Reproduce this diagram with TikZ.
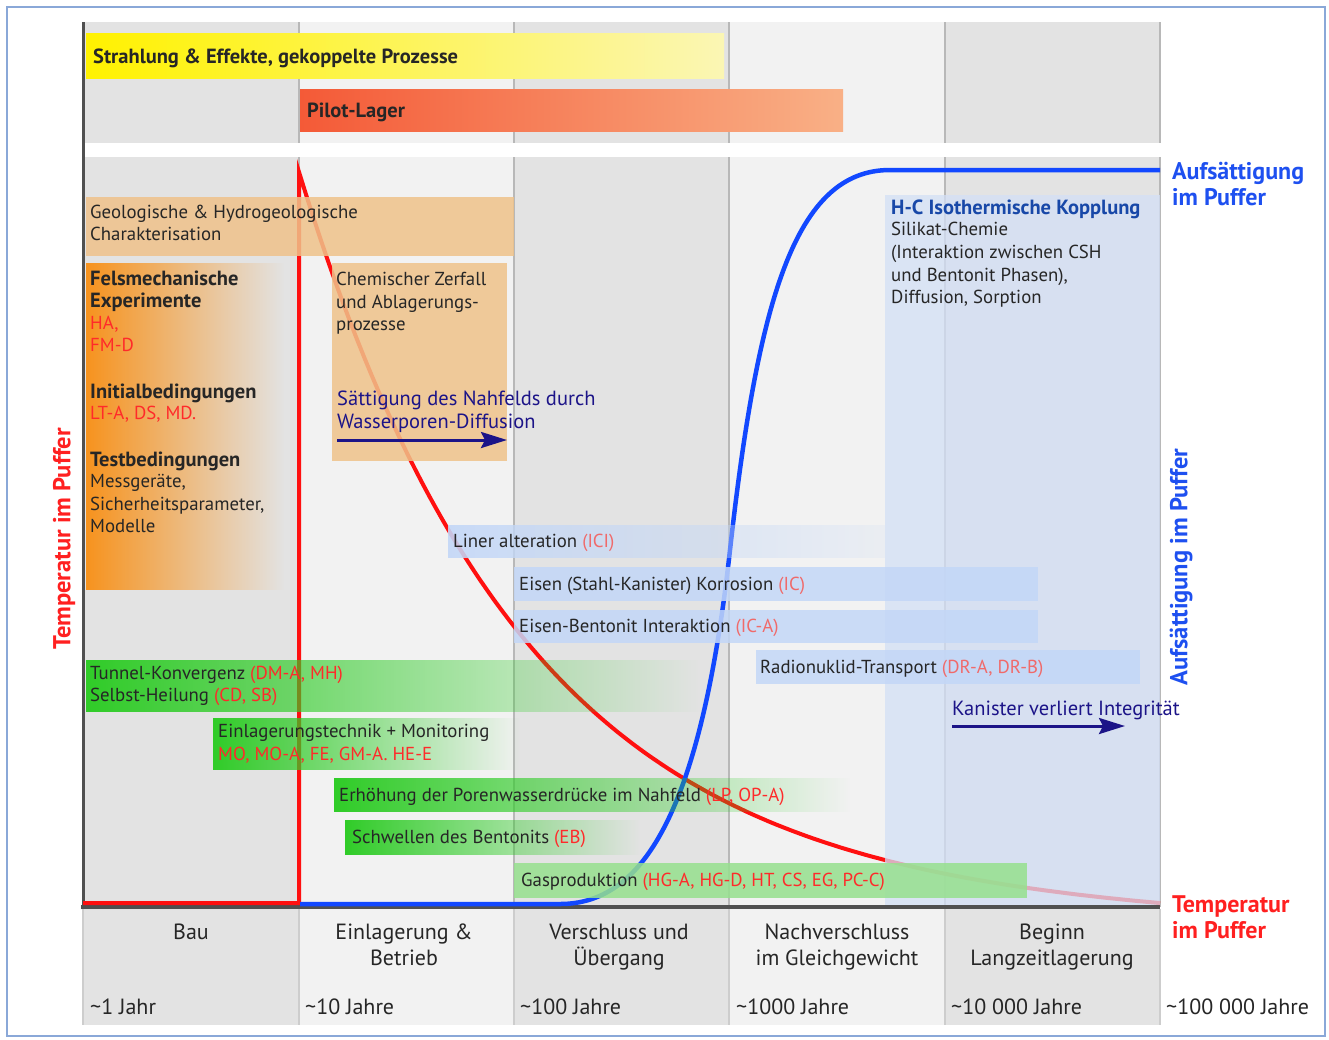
\documentclass[tikz,border=0pt]{standalone}
\usepackage{fontspec}
\setmainfont{PT Sans}
\usetikzlibrary{fadings,arrows.meta}
\definecolor{bgA}{HTML}{E3E3E3}
\definecolor{bgB}{HTML}{F2F2F2}
\definecolor{gridc}{HTML}{B8B8B8}
\definecolor{axisc}{HTML}{505050}
\definecolor{framec}{HTML}{8AA8D8}
\definecolor{yelA}{HTML}{FFF200}
\definecolor{yelB}{HTML}{FBF6B4}
\definecolor{pilA}{HTML}{F45A37}
\definecolor{pilB}{HTML}{F9B086}
\definecolor{orbox}{HTML}{EFC28A}
\definecolor{orL}{HTML}{F7931E}
\definecolor{bluebox}{HTML}{C3D7F7}
\definecolor{hcbox}{HTML}{D3E0F6}
\definecolor{greenA}{HTML}{30CC28}
\definecolor{gasc}{HTML}{96E08E}
\definecolor{navyc}{HTML}{1C1488}
\definecolor{hcblue}{HTML}{1848A8}
\definecolor{curveB}{HTML}{1248FF}
\definecolor{curveR}{HTML}{FF1010}
\definecolor{codered}{HTML}{FF2A2A}
\definecolor{codepale}{HTML}{F06A6A}
\definecolor{txtc}{HTML}{262626}
\definecolor{lblblue}{HTML}{1E50F0}
\definecolor{lblred}{HTML}{FF2020}
\tikzfading[name=fadeR, left color=transparent!0, right color=transparent!100]
\tikzfading[name=fadeG, left color=transparent!0, middle color=transparent!60, right color=transparent!100]
\tikzfading[name=fadeL, left color=transparent!10, right color=transparent!85]
\tikzset{
  lbl/.style={inner sep=0pt, anchor=base west, font=\fontsize{18.8}{22}\selectfont, text=txtc},
  lblb/.style={lbl, font=\bfseries\fontsize{20.5}{24}\selectfont},
  nav/.style={lbl, font=\fontsize{20.5}{24}\selectfont, text=navyc},
  axlbl/.style={inner sep=0pt, anchor=base west, font=\bfseries\fontsize{24}{28}\selectfont},
  vlbl/.style={rotate=90, inner sep=0pt, font=\bfseries\fontsize{24.5}{28}\selectfont},
  bot/.style={inner sep=0pt, anchor=base, font=\fontsize{22}{26}\selectfont, text=txtc},
  tim/.style={inner sep=0pt, anchor=base west, font=\fontsize{22}{26}\selectfont, text=txtc},
  bigarrow/.style={navyc, line width=3pt, -{Stealth[length=26pt, width=16pt, inset=4pt]}},
}
\begin{document}
\begin{tikzpicture}[x=1pt,y=-1pt]
\useasboundingbox (0,0) rectangle (1329,1039);
\fill[white] (0,0) rectangle (1329,1039);
\draw[framec, line width=1.2pt] (7,7) rectangle (1325,1036);
% column backgrounds
\foreach \a/\b/\c in {83/299/bgA, 299/514/bgB, 514/729/bgA, 729/945/bgB, 945/1160/bgA} {
  \fill[\c] (\a,22) rectangle (\b,143);
  \fill[\c] (\a,157) rectangle (\b,907);
  \fill[\c] (\a,909) rectangle (\b,1025);
}
\foreach \x in {299,514,729,945,1160} {
  \draw[gridc, line width=2.5pt] (\x,22) -- (\x,143);
  \draw[gridc, line width=2.5pt] (\x,157) -- (\x,907);
  \draw[gridc!70, line width=2pt] (\x,909) -- (\x,1025);
}
\draw[gridc!70, line width=2pt] (83,909) -- (83,1025);
% axes
\draw[axisc, line width=3pt] (83,22) -- (83,907);
\draw[axisc, line width=4pt] (81,907) -- (1160,907);
% curves
\draw[curveR, line width=4pt] (83,903) -- (299,903) -- (299,172) -- plot[domain=299:1160, samples=120] (\x, {903-731*(exp(-(\x-299)/224.5)-0.0216*(\x-299)/861)});
\draw[curveB, line width=4.5pt] (300,904) -- (560,904) .. controls (640,904) and (700,820) .. (730,550) .. controls (758,300) and (795,170) .. (890,170) -- (1160,170);
% top bars
\fill[left color=yelA, right color=yelB] (86,33) rectangle (724,78);
\fill[left color=pilA, right color=pilB] (300,89) rectangle (843,131);
% orange boxes
\fill[orbox, opacity=0.85] (86,197) rectangle (514,256);
\fill[orL, path fading=fadeR] (86,263) rectangle (284,590);
\fill[orbox, opacity=0.85] (332,263) rectangle (507,461);
% blue boxes
\fill[hcbox, opacity=0.75] (885,195) rectangle (1160,905);
\fill[bluebox, path fading=fadeL] (448,525) rectangle (885,558);
\fill[bluebox, opacity=0.85] (514,567) rectangle (1038,601);
\fill[bluebox, opacity=0.85] (514,610) rectangle (1038,643);
\fill[bluebox, opacity=0.85] (756,650) rectangle (1140,684);
% green boxes
\fill[greenA, path fading=fadeG] (86,660) rectangle (700,712);
\fill[greenA, path fading=fadeG] (213,718) rectangle (520,770);
\fill[greenA, path fading=fadeG] (334,778) rectangle (850,812);
\fill[greenA, path fading=fadeG] (345,820) rectangle (640,855);
\fill[gasc, opacity=0.85] (514,863) rectangle (1027,898);
% arrows
\coordinate (a1s) at (337,440);
\coordinate (a1e) at (507,440);
\coordinate (a2s) at (952,726);
\coordinate (a2e) at (1125,726);
\draw[bigarrow] (a1s) -- (a1e);
\draw[bigarrow] (a2s) -- (a2e);
% texts
\node[lblb] (t1) at (93,63) {Strahlung \& Effekte, gekoppelte Prozesse};
\node[lblb] (t2) at (307,117) {Pilot-Lager};
\node[lbl] (g1) at (90,218) {Geologische \& Hydrogeologische};
\node[lbl] (g2) at (90,240) {Charakterisation};
\node[lblb] (f1) at (90,285) {Felsmechanische};
\node[lblb] (f2) at (90,307) {Experimente};
\node[lbl, text=codered] (f3) at (90,329) {HA,};
\node[lbl, text=codered] (f4) at (90,351) {FM-D};
\node[lblb] (f5) at (90,398) {Initialbedingungen};
\node[lbl, text=codered] (f6) at (90,419) {LT-A, DS, MD.};
\node[lblb] (f7) at (90,466) {Testbedingungen};
\node[lbl] (f8) at (90,487) {Messgeräte,};
\node[lbl] (f9) at (90,510) {Sicherheitsparameter,};
\node[lbl] (f10) at (90,532) {Modelle};
\node[lbl] (c1) at (336,285) {Chemischer Zerfall};
\node[lbl] (c2) at (336,308) {und Ablagerungs-};
\node[lbl] (c3) at (336,330) {prozesse};
\node[nav] (s1) at (337,405) {Sättigung des Nahfelds durch};
\node[nav] (s2) at (337,428) {Wasserporen-Diffusion};
\node[lbl] (l1) at (453,547) {Liner alteration \textcolor{codepale}{(ICI)}};
\node[lbl] (e1) at (519,590) {Eisen (Stahl-Kanister) Korrosion \textcolor{codepale}{(IC)}};
\node[lbl] (e2) at (519,632) {Eisen-Bentonit Interaktion \textcolor{codepale}{(IC-A)}};
\node[lbl] (r1) at (760,673) {Radionuklid-Transport \textcolor{codepale}{(DR-A, DR-B)}};
\node[lblb, text=hcblue] (h1) at (891,214) {H-C Isothermische Kopplung};
\node[lbl] (h2) at (891,235) {Silikat-Chemie};
\node[lbl] (h3) at (891,258) {(Interaktion zwischen CSH};
\node[lbl] (h4) at (891,281) {und Bentonit Phasen),};
\node[lbl] (h5) at (891,303) {Diffusion, Sorption};
\node[nav] (k1) at (952,715) {Kanister verliert Integrität};
\node[lbl] (n1) at (90,679) {Tunnel-Konvergenz \textcolor{codered}{(DM-A, MH)}};
\node[lbl] (n2) at (90,701) {Selbst-Heilung \textcolor{codered}{(CD, SB)}};
\node[lbl] (n3) at (218,737) {Einlagerungstechnik + Monitoring};
\node[lbl, text=codered] (n4) at (218,760) {MO, MO-A, FE, GM-A. HE-E};
\node[lbl] (n5) at (339,801) {Erhöhung der Porenwasserdrücke im Nahfeld \textcolor{codered}{(LP, OP-A)}};
\node[lbl] (n6) at (352,843) {Schwellen des Bentonits \textcolor{codered}{(EB)}};
\node[lbl] (n7) at (521,886) {Gasproduktion \textcolor{codered}{(HG-A, HG-D, HT, CS, EG, PC-C)}};
% axis labels
\node[axlbl, text=lblblue] (ra1) at (1172,179) {Aufsättigung};
\node[axlbl, text=lblblue] (ra2) at (1172,205) {im Puffer};
\node[axlbl, text=lblred] (rt1) at (1172,912) {Temperatur};
\node[axlbl, text=lblred] (rt2) at (1172,938) {im Puffer};
\node[vlbl, text=lblred] (lv) at (64,539) {Temperatur im Puffer};
\node[vlbl, text=lblblue] (rv) at (1181,567) {Aufsättigung im Puffer};
% bottom labels
\node[bot] (b1) at (191,939) {Bau};
\node[bot] (b2a) at (404,939) {Einlagerung \&};
\node[bot] (b2b) at (404,965) {Betrieb};
\node[bot] (b3a) at (619,939) {Verschluss und};
\node[bot] (b3b) at (619,965) {Übergang};
\node[bot] (b4a) at (837,939) {Nachverschluss};
\node[bot] (b4b) at (837,965) {im Gleichgewicht};
\node[bot] (b5a) at (1052,939) {Beginn};
\node[bot] (b5b) at (1052,965) {Langzeitlagerung};
\node[tim] (y1) at (90,1014) {\textasciitilde 1 Jahr};
\node[tim] (y2) at (305,1014) {\textasciitilde 10 Jahre};
\node[tim] (y3) at (520,1014) {\textasciitilde 100 Jahre};
\node[tim] (y4) at (736,1014) {\textasciitilde 1000 Jahre};
\node[tim] (y5) at (951,1014) {\textasciitilde 10 000 Jahre};
\node[tim] (y6) at (1166,1014) {\textasciitilde 100 000 Jahre};
\end{tikzpicture}
\end{document}
